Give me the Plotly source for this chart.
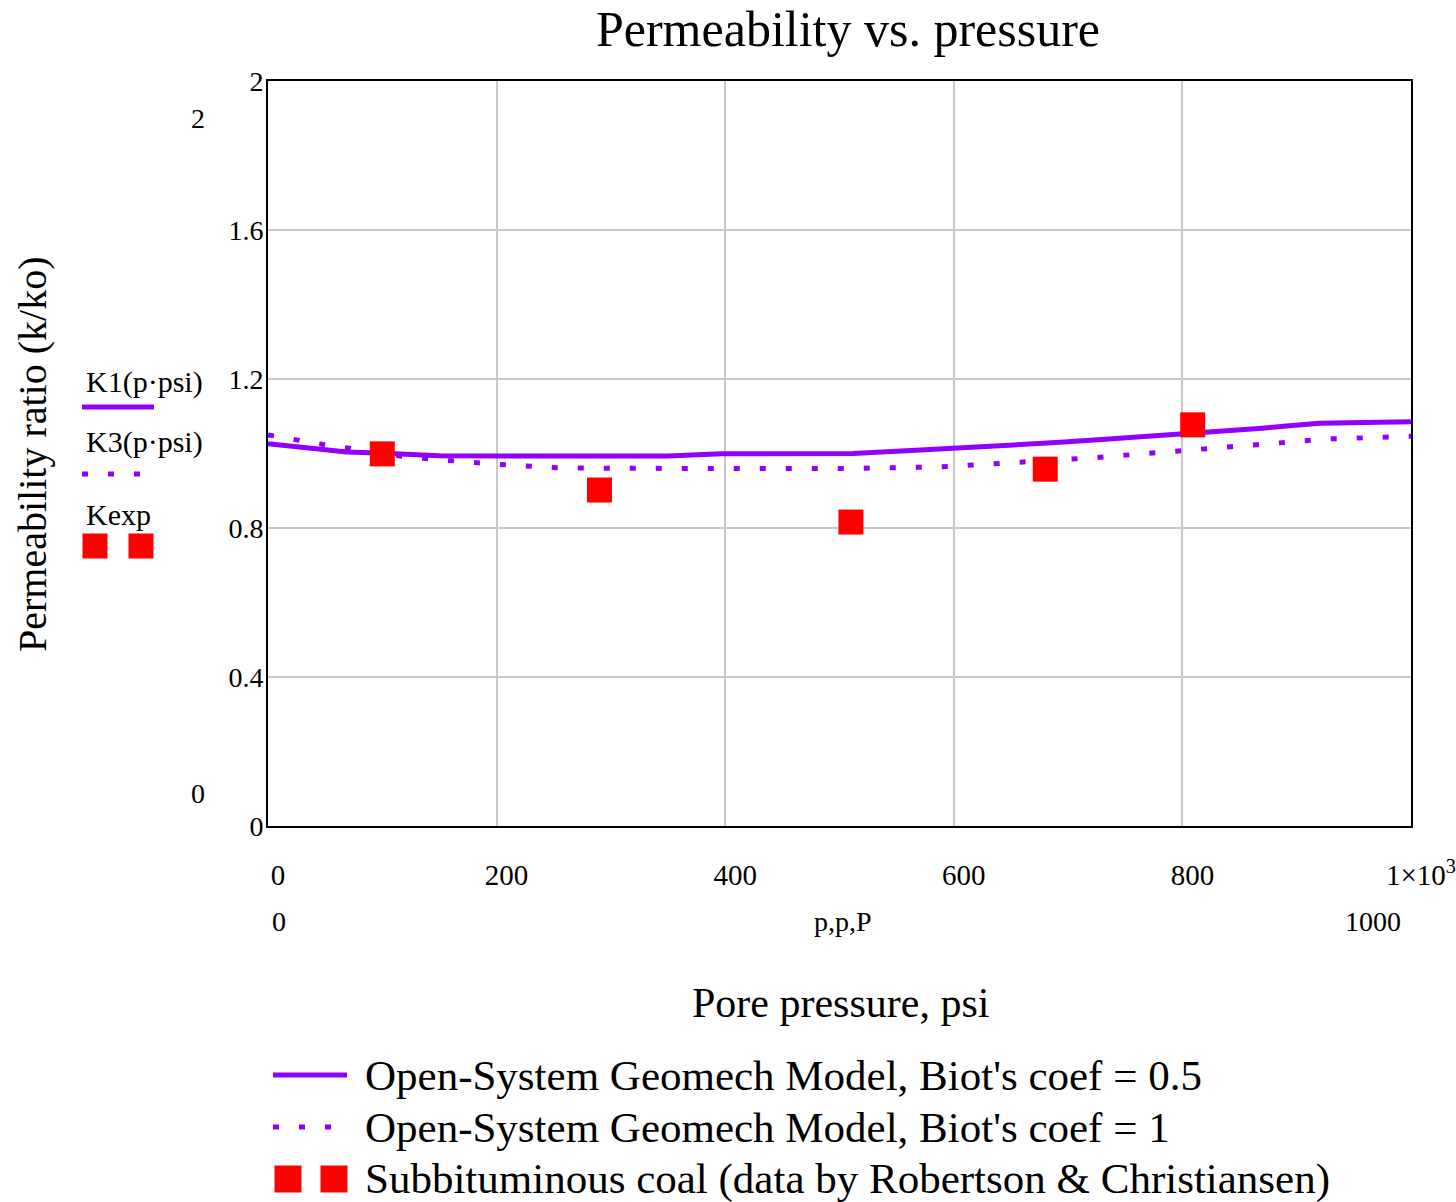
import plotly.graph_objects as go

# ---------------- data ----------------
p_k1 = [0, 25, 41, 69, 101, 150, 250, 350, 397, 512, 575, 617, 656, 693, 726,
        757, 787, 817, 842, 870, 896, 920, 1000]
k1 = [1.026, 1.017, 1.012, 1.004, 1.001, 0.994, 0.993, 0.993, 0.999, 1.000, 1.010,
      1.016, 1.024, 1.030, 1.037, 1.043, 1.050, 1.057, 1.062, 1.068, 1.075, 1.081, 1.085]

p_k3 = [0, 18, 37, 56, 100, 115, 135, 156, 175, 196, 216, 236, 257, 350, 450, 508,
        588, 607, 627, 646, 687, 728, 748, 767, 787, 808, 828, 848, 868, 888, 909,
        927, 1000]
k3 = [1.050, 1.041, 1.030, 1.020, 1.003, 0.993, 0.987, 0.981, 0.976, 0.972, 0.968,
      0.965, 0.961, 0.960, 0.960, 0.960, 0.964, 0.967, 0.970, 0.974, 0.982, 0.990,
      0.995, 1.000, 1.004, 1.010, 1.016, 1.022, 1.026, 1.030, 1.035, 1.039, 1.046]

p_exp = [100, 290, 510, 680, 809]
k_exp = [0.999, 0.902, 0.816, 0.958, 1.077]

x_ticks = [0, 200, 400, 600, 800, 1000]
x_ticktext = ["0", "200", "400", "600", "800", "1×10<sup>3</sup>"]
y_ticks = [0, 0.4, 0.8, 1.2, 1.6, 2]
y_ticktext = ["0", "0.4", "0.8", "1.2", "1.6", "2"]

title = "Permeability vs. pressure"
y_title = "Permeability ratio (k/ko)"
x_title = "Pore pressure, psi"
legend_names = ["Open-System Geomech Model, Biot's coef = 0.5",
                "Open-System Geomech Model, Biot's coef = 1",
                "Subbituminous coal (data by Robertson & Christiansen)"]
inner_names = ["K1(p·psi)", "K3(p·psi)", "Kexp"]

# ---------------- style ----------------
W, H = 1456, 1202
L, R, T, B = 268, 1411, 81, 826
FONT = "Liberation Serif"
PURPLE = "#9100FF"
RED = "#FF0000"
DOT = "6px,20px"


def px(x):
    return (x - L) / (R - L)


def py(y):
    return (B - y) / (B - T)


fig = go.Figure()
fig.add_trace(go.Scatter(x=p_k1, y=k1, mode="lines", name=legend_names[0],
                         line=dict(color=PURPLE, width=5), showlegend=False))
fig.add_trace(go.Scatter(x=p_k3, y=k3, mode="lines", name=legend_names[1],
                         line=dict(color=PURPLE, width=5, dash=DOT), showlegend=False))
fig.add_trace(go.Scatter(x=p_exp, y=k_exp, mode="markers", name=legend_names[2],
                         marker=dict(symbol="square", size=25, color=RED),
                         showlegend=False))

ann = []


def text(x, y, s, size, xanchor="center", yanchor="middle", angle=0):
    ann.append(dict(x=px(x), y=py(y), xref="paper", yref="paper", text=s,
                    showarrow=False, xanchor=xanchor, yanchor=yanchor,
                    textangle=angle, font=dict(family=FONT, size=size, color="black")))


shapes = []


def hline(x0, x1, y, dash=None):
    shapes.append(dict(type="line", xref="paper", yref="paper",
                       x0=px(x0), x1=px(x1), y0=py(y), y1=py(y),
                       line=dict(color=PURPLE, width=5, dash=dash)))


def square(cx, cy, s=25):
    shapes.append(dict(type="rect", xref="paper", yref="paper",
                       x0=px(cx - s / 2), x1=px(cx + s / 2),
                       y0=py(cy + s / 2), y1=py(cy - s / 2),
                       fillcolor=RED, line=dict(width=0)))


# y title
text(32, 455, y_title, 40, angle=-90)
# Mathcad limit labels
text(198, 118, "2", 28)
text(198, 793, "0", 28)
# second x row
text(279, 921, "0", 28)
text(843, 921, "p,p,P", 28)
text(1373, 921, "1000", 28)
text(840, 1003, x_title, 42)

# inner legend
text(84, 382, inner_names[0], 30, xanchor="left")
hline(82, 154, 407)
text(84, 442, inner_names[1], 30, xanchor="left")
hline(82, 150, 474, dash=DOT)
text(84, 514, inner_names[2], 30, xanchor="left")
square(95, 546)
square(141, 546)

# bottom legend
hline(273, 347, 1075)
text(363, 1075, legend_names[0], 43, xanchor="left")
hline(273, 345, 1127, dash=DOT)
text(363, 1127, legend_names[1], 43, xanchor="left")
square(288, 1179, 27)
square(334, 1179, 27)
text(363, 1179, legend_names[2], 43, xanchor="left")

fig.update_layout(
    width=W, height=H,
    margin=dict(l=L, r=W - R, t=T, b=H - B, pad=0, autoexpand=False),
    paper_bgcolor="white", plot_bgcolor="white",
    font=dict(family=FONT, size=28, color="black"),
    title=dict(text=title, x=(848 - L) / (R - L), xref="paper", y=1 - 28 / H,
               yref="container", xanchor="center", yanchor="middle", automargin=False,
               font=dict(family=FONT, size=50, color="black")),
    annotations=ann, shapes=shapes,
)
fig.update_xaxes(range=[0, 1000], tickvals=x_ticks, ticktext=x_ticktext,
                 showgrid=True, gridcolor="#c8c8c8", gridwidth=2,
                 showline=True, linecolor="black", linewidth=2, mirror=True,
                 zeroline=False, ticks="", ticklabelstandoff=22, ticklabelshift=10,
                 automargin=False, tickfont=dict(family=FONT, size=29))
fig.update_yaxes(range=[0, 2], tickvals=y_ticks, ticktext=y_ticktext,
                 showgrid=True, gridcolor="#c8c8c8", gridwidth=2,
                 showline=True, linecolor="black", linewidth=2, mirror=True,
                 zeroline=False, ticks="", ticklabelstandoff=-3,
                 automargin=False, tickfont=dict(family=FONT, size=28))

fig.write_html("out.html")
